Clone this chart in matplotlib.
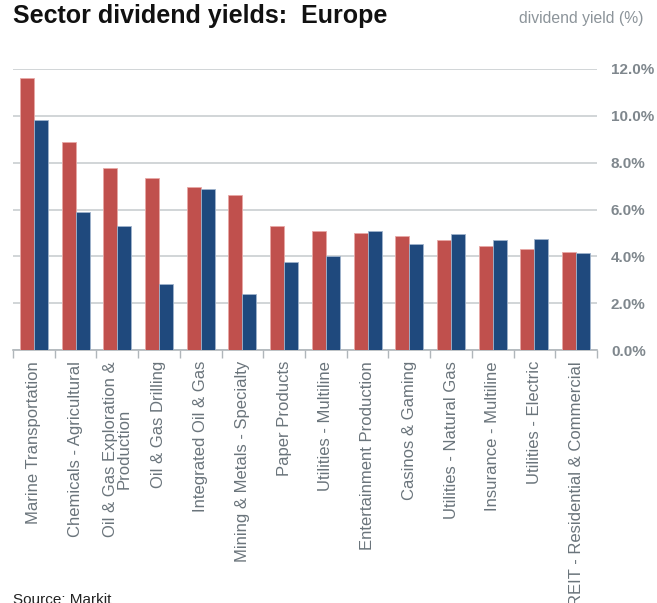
import numpy as np
import matplotlib
matplotlib.use("Agg")
import matplotlib.pyplot as plt

plt.rcParams['font.family'] = ['Liberation Sans', 'DejaVu Sans']

sectors = [
    "Marine Transportation",
    "Chemicals - Agricultural",
    "Oil & Gas Exploration &\nProduction",
    "Oil & Gas Drilling",
    "Integrated Oil & Gas",
    "Mining & Metals - Specialty",
    "Paper Products",
    "Utilities - Multiline",
    "Entertainment Production",
    "Casinos & Gaming",
    "Utilities - Natural Gas",
    "Insurance - Multiline",
    "Utilities - Electric",
    "REIT - Residential & Commercial",
]
red_values = [11.60, 8.87, 7.77, 7.34, 6.95, 6.60, 5.29, 5.07, 5.00, 4.87, 4.68, 4.43, 4.30, 4.17]
blue_values = [9.81, 5.89, 5.29, 2.82, 6.86, 2.38, 3.74, 4.03, 5.08, 4.53, 4.95, 4.68, 4.73, 4.13]
yticks = [0, 2, 4, 6, 8, 10, 12]

RED = "#C0504D"
BLUE = "#1F497D"
GRID = "#c9ced1"
GREY = "#7f878d"

W, H = 657, 603
fig = plt.figure(figsize=(W / 100, H / 100), dpi=100)
ax = fig.add_axes([13 / W, (H - 350) / H, 584 / W, (350 - 69) / H])

x = np.arange(len(sectors))
bw = 0.335
ax.bar(x - bw / 2, red_values, bw, color=RED, edgecolor="#e8a8a6", linewidth=0.6, zorder=3)
ax.bar(x + bw / 2, blue_values, bw, color=BLUE, edgecolor="#9fb3cc", linewidth=0.6, zorder=3)

ax.set_xlim(-0.5, len(sectors) - 0.5)
ax.set_ylim(0, 12)
ax.set_yticks(yticks)
ax.set_yticklabels([f"{v:.1f}%" for v in yticks], fontsize=11, color=GREY, fontweight="bold")
ax.yaxis.tick_right()
ax.tick_params(axis="y", length=0, pad=10)
ax.grid(axis="y", color=GRID, linewidth=1.2, zorder=0)

# category labels
ax.set_xticks(x)
ax.set_xticklabels(sectors, rotation=90, fontsize=12, color="#6a747b",
                   va="top", ha="center", linespacing=0.95)
ax.tick_params(axis="x", length=0, pad=8)
# boundary ticks
ax.set_xticks(np.arange(len(sectors) + 1) - 0.5, minor=True)
ax.tick_params(axis="x", which="minor", length=6, color="#b0b6ba", width=1)

for side in ["top", "right", "left"]:
    ax.spines[side].set_visible(False)
ax.spines["bottom"].set_color("#b0b6ba")
ax.spines["bottom"].set_linewidth(1.2)

fig.text(13 / W, 1 - 16 / H, "Sector dividend yields:  Europe", fontsize=18,
         fontweight="bold", color="#111111", va="center", ha="left")
fig.text(643 / W, 1 - 19 / H, "dividend yield (%)", fontsize=11.3,
         color="#8c949a", va="center", ha="right")
fig.text(13 / W, 1 - 600 / H, "Source: Markit", fontsize=11, color="#222222",
         va="center", ha="left")

fig.savefig("out.png", dpi=100)
